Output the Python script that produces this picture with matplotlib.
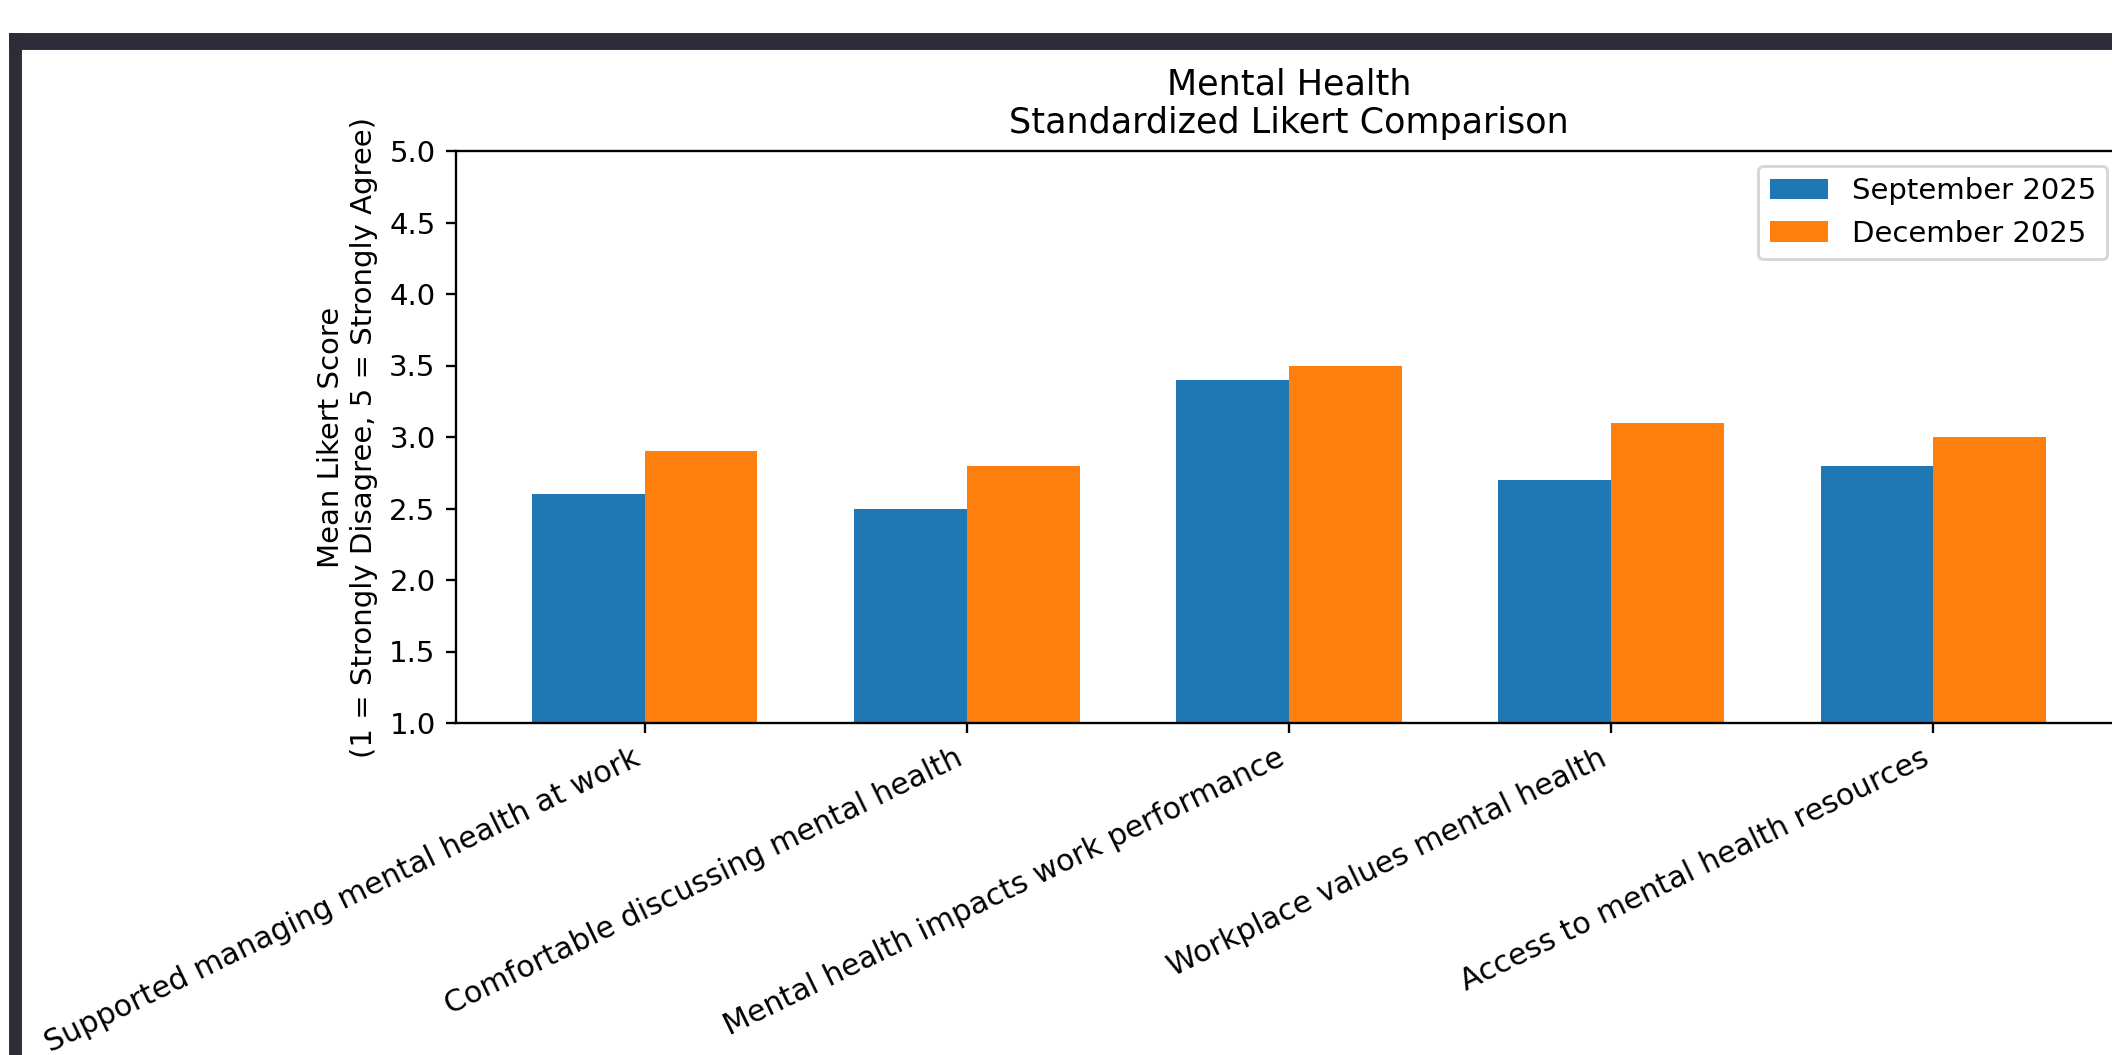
import numpy as np
import matplotlib
matplotlib.use("Agg")
import matplotlib.pyplot as plt
from matplotlib.patches import Rectangle

# data
categories = [
    "Supported managing mental health at work",
    "Comfortable discussing mental health",
    "Mental health impacts work performance",
    "Workplace values mental health",
    "Access to mental health resources",
]
sept_2025 = [2.6, 2.5, 3.4, 2.7, 2.8]
dec_2025 = [2.9, 2.8, 3.5, 3.1, 3.0]
series_labels = ["September 2025", "December 2025"]

matplotlib.rcParams.update({'font.size': 10, 'font.family': 'DejaVu Sans'})

W, H, dpi = 2112, 1055, 210
fig = plt.figure(figsize=(W / dpi, H / dpi), dpi=dpi)

# axes deliberately runs past the right edge (the reference screenshot is cropped there)
ax = fig.add_axes([456 / W, 1 - 723 / H, (2122 - 456) / W, (723 - 151) / H])

x = np.arange(len(categories))
width = 0.35
ax.bar(x - width / 2, sept_2025, width, label=series_labels[0], color='#1f77b4')
ax.bar(x + width / 2, dec_2025, width, label=series_labels[1], color='#ff7f0e')

ax.set_ylim(1, 5)
ax.set_yticks(np.arange(1.0, 5.01, 0.5))
ax.set_xticks(x)
ax.set_xticklabels(categories, rotation=26, ha='right', fontsize=10.3)
ax.set_ylabel("Mean Likert Score\n(1 = Strongly Disagree, 5 = Strongly Agree)")
ax.set_title("Mental Health\nStandardized Likert Comparison", fontsize=12)
ax.legend(loc='upper right')

# dark screenshot frame along the top and left
frame_col = '#2d2c38'
fig.patches.append(Rectangle((10 / W, 0), 10 / W, 1 - 34 / H, transform=fig.transFigure,
                             color=frame_col, zorder=10))
fig.patches.append(Rectangle((10 / W, 1 - 48 / H), 1, 14 / H, transform=fig.transFigure,
                             color=frame_col, zorder=10))

fig.savefig('out.png', dpi=dpi)
